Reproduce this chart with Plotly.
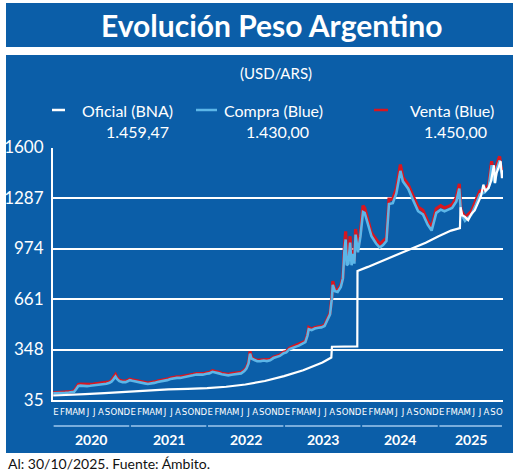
import plotly.graph_objects as go
import pandas as pd

W, H = 520, 472
BLUE_BG = "#0b5ea8"
C_OFICIAL = "#ffffff"
C_COMPRA = "#5cb6e8"
C_VENTA = "#d9161f"
FONT = "Lato"
FONT_NARROW = "Liberation Sans Narrow, DejaVu Sans Condensed, Lato"

# ---------------- data ----------------
title = "Evolución Peso Argentino"
subtitle = "(USD/ARS)"
series_names = ["Oficial (BNA)", "Compra (Blue)", "Venta (Blue)"]
footer = "Al: 30/10/2025. Fuente: Ámbito."

oficial_dates = [
    "2020-01-02", "2020-03-01", "2020-06-01", "2020-09-01", "2020-12-31",
    "2021-03-31", "2021-06-30", "2021-09-30", "2021-12-31",
    "2022-03-31", "2022-06-30", "2022-09-30", "2022-12-30",
    "2023-03-31", "2023-06-30", "2023-08-11", "2023-08-14", "2023-12-12",
    "2023-12-13", "2024-01-31", "2024-04-30", "2024-07-31", "2024-10-31",
    "2024-12-31", "2025-02-28", "2025-04-11", "2025-04-14", "2025-04-22",
    "2025-05-05", "2025-05-20", "2025-06-05", "2025-06-20", "2025-07-05",
    "2025-07-20", "2025-07-31", "2025-08-10", "2025-08-25", "2025-09-05",
    "2025-09-12", "2025-09-19", "2025-09-24", "2025-10-01", "2025-10-10",
    "2025-10-17", "2025-10-21", "2025-10-27", "2025-10-30",
]
oficial = [
    63, 65, 72, 78, 89,
    97, 101, 104, 108,
    117, 131, 153, 183,
    219, 267, 298, 365, 367,
    835, 860, 910, 960, 1010,
    1050, 1085, 1100, 1230, 1180,
    1170, 1150, 1190, 1210, 1260,
    1300, 1370, 1330, 1350, 1390,
    1440, 1490, 1380, 1440, 1470,
    1500, 1515, 1410, 1459.47,
]

blue_dates = [
    "2020-01-02", "2020-01-20", "2020-02-10", "2020-02-28", "2020-03-16", "2020-03-31",
    "2020-04-10", "2020-04-20", "2020-04-30", "2020-05-10", "2020-05-25", "2020-06-10",
    "2020-06-25", "2020-07-10", "2020-07-25", "2020-08-10", "2020-08-25", "2020-09-10",
    "2020-09-25", "2020-10-05", "2020-10-15", "2020-10-23", "2020-10-30", "2020-11-10",
    "2020-11-25", "2020-12-10", "2020-12-22", "2020-12-30",
    "2021-01-10", "2021-01-25", "2021-02-10", "2021-02-25", "2021-03-10", "2021-03-25",
    "2021-04-10", "2021-04-25", "2021-05-10", "2021-05-25", "2021-06-10", "2021-06-25",
    "2021-07-10", "2021-07-25", "2021-08-10", "2021-08-25", "2021-09-10", "2021-09-25",
    "2021-10-10", "2021-10-25", "2021-11-10", "2021-11-25", "2021-12-10", "2021-12-28",
    "2022-01-10", "2022-01-25", "2022-02-10", "2022-02-25", "2022-03-10", "2022-03-25",
    "2022-04-10", "2022-04-25", "2022-05-10", "2022-05-25", "2022-06-10", "2022-06-25",
    "2022-07-05", "2022-07-15", "2022-07-22", "2022-07-29", "2022-08-10", "2022-08-25",
    "2022-09-10", "2022-09-25", "2022-10-10", "2022-10-25", "2022-11-10", "2022-11-25",
    "2022-12-10", "2022-12-28",
    "2023-01-10", "2023-01-25", "2023-02-10", "2023-02-25", "2023-03-10", "2023-03-25",
    "2023-04-10", "2023-04-20", "2023-04-26", "2023-05-10", "2023-05-25", "2023-06-10",
    "2023-06-25", "2023-07-10", "2023-07-25", "2023-08-05", "2023-08-14", "2023-08-18",
    "2023-08-28", "2023-09-10", "2023-09-25", "2023-10-05", "2023-10-12", "2023-10-18",
    "2023-10-23", "2023-10-31", "2023-11-08", "2023-11-15", "2023-11-22", "2023-11-28",
    "2023-12-04", "2023-12-15", "2023-12-27",
    "2024-01-08", "2024-01-16", "2024-01-31", "2024-02-17", "2024-03-10", "2024-03-27",
    "2024-04-12", "2024-04-28", "2024-05-10", "2024-05-28", "2024-06-14", "2024-07-03",
    "2024-07-15", "2024-08-09", "2024-09-01", "2024-09-25", "2024-10-18", "2024-11-10",
    "2024-11-28", "2024-12-20",
    "2025-01-10", "2025-01-28", "2025-02-15", "2025-03-05", "2025-03-25", "2025-04-08",
    "2025-04-16", "2025-05-05", "2025-05-20", "2025-06-05", "2025-06-25", "2025-07-15",
    "2025-08-05", "2025-08-25", "2025-09-08", "2025-09-16", "2025-09-24", "2025-10-03",
    "2025-10-16", "2025-10-22", "2025-10-30",
]
compra = [
    76, 76, 77, 79, 81, 82,
    86, 103, 122, 124, 122, 121,
    123, 125, 128, 129, 132, 136,
    142, 150, 166, 180, 166, 152,
    146, 146, 153, 158,
    154, 151, 145, 141, 138, 134,
    136, 141, 147, 150, 153, 158,
    165, 170, 172, 172, 175, 178,
    183, 188, 193, 193, 192, 198,
    200, 210, 207, 200, 195, 192,
    188, 192, 195, 195, 200, 214,
    230, 262, 322, 292, 282, 275,
    276, 280, 276, 281, 295, 300,
    308, 325,
    330, 350, 360, 366, 372, 384,
    394, 434, 474, 468, 478, 483,
    485, 494, 532, 566, 670, 748,
    710, 705, 735, 790, 960, 1030,
    870, 880, 1010, 870, 940, 880,
    1060, 950, 1050,
    1200, 1195, 1130, 1050, 1005, 980,
    995, 1020, 1250, 1255, 1315, 1455,
    1390, 1345, 1275, 1205, 1185, 1120,
    1085, 1195,
    1215, 1205, 1215, 1225, 1265, 1345,
    1190, 1145, 1165, 1185, 1245, 1310,
    1320, 1350, 1490, 1400, 1380, 1470,
    1520, 1460, 1430,
]
venta = [
    79, 80, 81, 84, 86, 87,
    92, 112, 132, 134, 132, 131,
    132, 133, 136, 136, 138, 142,
    148, 158, 175, 192, 174, 158,
    152, 152, 159, 164,
    160, 157, 151, 147, 144, 140,
    142, 147, 153, 156, 159, 164,
    171, 176, 178, 178, 181, 184,
    189, 194, 199, 199, 198, 204,
    206, 216, 213, 206, 201, 198,
    194, 198, 201, 201, 206, 220,
    236, 270, 336, 300, 288, 281,
    282, 286, 282, 287, 301, 306,
    314, 331,
    336, 356, 366, 372, 378, 390,
    400, 442, 484, 474, 484, 489,
    491, 500, 540, 574, 680, 772,
    720, 715, 745, 800, 990, 1080,
    900, 910, 1050, 900, 960, 895,
    1095, 975, 1075,
    1240, 1225, 1150, 1070, 1030, 1000,
    1020, 1040, 1280, 1280, 1345, 1495,
    1415, 1370, 1300, 1230, 1210, 1140,
    1105, 1220,
    1240, 1225, 1235, 1245, 1290, 1375,
    1215, 1165, 1185, 1205, 1270, 1330,
    1340, 1370, 1515, 1420, 1400, 1495,
    1545, 1480, 1450,
]

y_ticks = [35, 348, 661, 974, 1287, 1600]
month_letters = ["E", "F", "M", "A", "M", "J", "J", "A", "S", "O", "N", "D"]
years = [2020, 2021, 2022, 2023, 2024, 2025]
x_start, x_end = "2020-01-01", "2025-11-01"


def fmt_es(v):
    s = f"{v:,.2f}"
    return s.replace(",", "X").replace(".", ",").replace("X", ".")


latest = [fmt_es(oficial[-1]), fmt_es(compra[-1]), fmt_es(venta[-1])]

# month ticks
months = pd.date_range(x_start, "2025-10-01", freq="MS")
tick_vals = [m + pd.Timedelta(days=14) for m in months]
tick_text = [month_letters[m.month - 1] for m in months]


def px(x):
    return x / W


def py(y):
    return 1 - y / H


fig = go.Figure()
fig.add_trace(go.Scatter(x=blue_dates, y=venta, mode="lines", name=series_names[2],
                         line=dict(color=C_VENTA, width=3.2)))
fig.add_trace(go.Scatter(x=blue_dates, y=compra, mode="lines", name=series_names[1],
                         line=dict(color=C_COMPRA, width=2.6)))
fig.add_trace(go.Scatter(x=oficial_dates, y=oficial, mode="lines", name=series_names[0],
                         line=dict(color=C_OFICIAL, width=2.2)))

shapes = [
    dict(type="rect", xref="paper", yref="paper", x0=px(6), x1=px(513), y0=py(47), y1=py(3),
         fillcolor=BLUE_BG, line=dict(width=0), layer="below"),
    dict(type="rect", xref="paper", yref="paper", x0=px(6), x1=px(513), y0=py(453), y1=py(55),
         fillcolor=BLUE_BG, line=dict(width=0), layer="below"),
]
annotations = [
    dict(text=f"<b>{title}</b>", x=px(271), y=py(25), xref="paper", yref="paper",
         showarrow=False, font=dict(family=FONT, size=30, color="white"),
         xanchor="center", yanchor="middle"),
    dict(text=subtitle, x=px(276), y=py(73), xref="paper", yref="paper",
         showarrow=False, font=dict(family=FONT, size=15, color="white"),
         xanchor="center", yanchor="middle"),
    dict(text=footer, x=px(6), y=py(463), xref="paper", yref="paper",
         showarrow=False, font=dict(family=FONT, size=14, color="#111111"),
         xanchor="left", yanchor="middle"),
]

# legend (manual)
leg_lines = [(52, 65, C_OFICIAL), (196, 217, C_COMPRA), (374, 388, C_VENTA)]
leg_text_x = [80, 222, 408]
val_x = [137, 277, 455]
for (x0, x1, col), tx, vx, name, val in zip(leg_lines, leg_text_x, val_x, series_names, latest):
    shapes.append(dict(type="line", xref="paper", yref="paper", x0=px(x0), x1=px(x1),
                       y0=py(110), y1=py(110), line=dict(color=col, width=2.5)))
    annotations.append(dict(text=name, x=px(tx), y=py(110), xref="paper", yref="paper",
                            showarrow=False, font=dict(family=FONT, size=16, color="white"),
                            xanchor="left", yanchor="middle"))
    annotations.append(dict(text=val, x=px(vx), y=py(131), xref="paper", yref="paper",
                            showarrow=False, font=dict(family=FONT, size=16, color="white"),
                            xanchor="center", yanchor="middle"))

# year underlines and labels
for yr in years:
    start = pd.Timestamp(f"{yr}-01-04")
    end = pd.Timestamp(f"{yr}-12-27") if yr < 2025 else pd.Timestamp("2025-10-27")
    mid = start + (end - start) / 2
    shapes.append(dict(type="line", xref="x", yref="paper", x0=start, x1=end,
                       y0=py(426), y1=py(426), line=dict(color="#9fc9ee", width=1.5)))
    annotations.append(dict(text=f"<b>{yr}</b>", x=mid, y=py(439), xref="x", yref="paper",
                            showarrow=False, font=dict(family=FONT, size=14, color="white"),
                            xanchor="center", yanchor="middle"))

fig.update_layout(
    width=W, height=H,
    margin=dict(l=0, r=0, t=0, b=0, autoexpand=False),
    paper_bgcolor="white",
    plot_bgcolor=BLUE_BG,
    showlegend=False,
    shapes=shapes,
    annotations=annotations,
    xaxis=dict(
        type="date", range=[x_start, x_end], domain=[px(53), px(503)],
        showgrid=False, zeroline=False, showline=True, linecolor="white", linewidth=2,
        tickmode="array", tickvals=tick_vals, ticktext=tick_text, tickangle=0,
        tickfont=dict(family=FONT_NARROW, size=9.5, color="white"), ticks="",
        ticklabelstandoff=2, anchor="y", automargin=False,
    ),
    yaxis=dict(
        range=[y_ticks[0], y_ticks[-1]], domain=[py(400), py(147.5)],
        tickmode="array", tickvals=y_ticks,
        showgrid=True, gridcolor="white", gridwidth=2,
        zeroline=False, showline=True, linecolor="white", linewidth=2,
        tickfont=dict(family=FONT, size=17, color="white"), ticks="",
        ticklabelstandoff=4, automargin=False,
    ),
)

fig.write_html(
    "out.html",
    config={"displayModeBar": False, "responsive": False},
    post_script="document.body.style.margin='0';document.body.style.padding='0';",
)
